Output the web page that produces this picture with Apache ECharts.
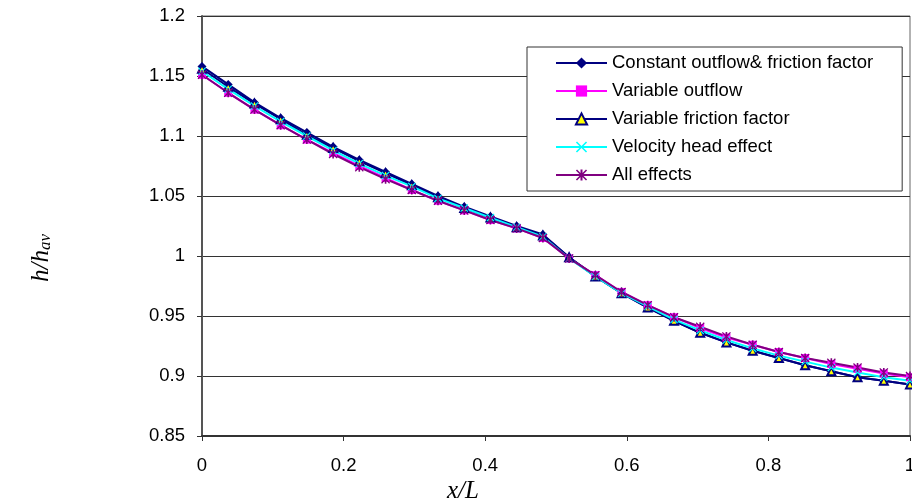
<!DOCTYPE html>
<html>
<head>
<meta charset="utf-8">
<script src="https://cdn.jsdelivr.net/npm/echarts@6/dist/echarts.min.js"></script>
<style>
  html, body { margin: 0; padding: 0; background: #fff; }
  #chart { width: 912px; height: 504px; }
</style>
</head>
<body>
<div id="chart"></div>
<script>
// x/L positions of the computed points
const xs = [0, 0.0370, 0.0741, 0.1111, 0.1481, 0.1852, 0.2222, 0.2593, 0.2963, 0.3333,
  0.3704, 0.4074, 0.4444, 0.4815, 0.5185, 0.5556, 0.5926, 0.6296, 0.6667, 0.7037,
  0.7407, 0.7778, 0.8148, 0.8519, 0.8889, 0.9259, 0.9630, 1];

const constantOutflow = [1.158, 1.143, 1.128, 1.115, 1.103, 1.091, 1.080, 1.070, 1.060, 1.050,
  1.041, 1.033, 1.025, 1.018, 0.999, 0.983, 0.969, 0.957, 0.946, 0.936,
  0.928, 0.921, 0.915, 0.909, 0.904, 0.899, 0.896, 0.893];
const variableOutflow = [1.151, 1.136, 1.122, 1.109, 1.097, 1.086, 1.075, 1.065, 1.055, 1.046,
  1.038, 1.030, 1.023, 1.015, 0.998, 0.984, 0.970, 0.959, 0.949, 0.940,
  0.932, 0.926, 0.920, 0.915, 0.910, 0.906, 0.902, 0.899];
const variableFriction = [1.156, 1.141, 1.127, 1.114, 1.101, 1.090, 1.079, 1.069, 1.059, 1.049,
  1.040, 1.032, 1.024, 1.017, 0.999, 0.983, 0.969, 0.957, 0.946, 0.936,
  0.928, 0.921, 0.915, 0.909, 0.904, 0.899, 0.896, 0.893];
const velocityHead = [1.154, 1.139, 1.125, 1.112, 1.100, 1.088, 1.077, 1.067, 1.058, 1.048,
  1.040, 1.032, 1.024, 1.016, 0.998, 0.983, 0.969, 0.958, 0.947, 0.938,
  0.930, 0.923, 0.917, 0.912, 0.907, 0.903, 0.899, 0.896];
const allEffects = [1.151, 1.136, 1.122, 1.109, 1.097, 1.085, 1.074, 1.064, 1.055, 1.046,
  1.038, 1.030, 1.023, 1.015, 0.998, 0.984, 0.970, 0.959, 0.949, 0.941,
  0.933, 0.926, 0.920, 0.915, 0.911, 0.907, 0.903, 0.900];

const seriesNames = ['Constant outflow& friction factor', 'Variable outflow',
  'Variable friction factor', 'Velocity head effect', 'All effects'];

// marker shapes
const xMark = 'path://M0,1 L1,0 L5,4 L9,0 L10,1 L6,5 L10,9 L9,10 L5,6 L1,10 L0,9 L4,5 Z';
const starMark = 'path://M0,1 L1,0 L5,4 L9,0 L10,1 L6,5 L10,9 L9,10 L5,6 L1,10 L0,9 L4,5 Z M4.1,0 L5.9,0 L5.9,10 L4.1,10 Z';

function pairs(ys) {
  return xs.map((x, i) => [x, ys[i]]);
}

function makeSeries(name, ys, color, symbol, size, fill, border) {
  return {
    name: name,
    type: 'line',
    data: pairs(ys),
    symbol: symbol,
    symbolSize: size,
    showSymbol: true,
    lineStyle: { color: color, width: 2 },
    itemStyle: { color: fill || color, borderColor: border || color, borderWidth: border ? 2 : 0 },
    emphasis: { disabled: true }
  };
}

let chart = echarts.init(document.getElementById('chart'));
chart.setOption({
  animation: false,
  backgroundColor: '#fff',
  grid: {
    left: 202, right: 2, top: 16, bottom: 68,
    containLabel: false,
    outerBoundsMode: 'none',
    show: true, borderColor: '#666', borderWidth: 1
  },
  legend: {
    orient: 'vertical',
    left: 527,
    top: 47,
    data: seriesNames,
    itemWidth: 51,
    itemHeight: 14,
    itemGap: 8,
    padding: [6, 29, 6, 28],
    backgroundColor: '#fff',
    borderColor: '#333',
    borderWidth: 1,
    borderRadius: 0,
    textStyle: { fontFamily: 'Liberation Sans', fontSize: 18.5, lineHeight: 20, color: '#000' }
  },
  xAxis: {
    type: 'value',
    min: 0,
    max: 1,
    interval: 0.2,
    axisLine: { show: true, lineStyle: { color: '#333', width: 2 } },
    axisTick: { show: true, inside: false, length: 5, lineStyle: { color: '#333' } },
    splitLine: { show: false },
    axisLabel: {
      margin: 20,
      fontFamily: 'Liberation Sans',
      fontSize: 18.5,
      color: '#000',
      formatter: v => String(parseFloat(v.toFixed(1)))
    }
  },
  yAxis: {
    type: 'value',
    min: 0.85,
    max: 1.2,
    interval: 0.05,
    axisLine: { show: true, lineStyle: { color: '#555', width: 2 } },
    axisTick: { show: true, inside: false, length: 5, lineStyle: { color: '#333' } },
    splitLine: { show: true, lineStyle: { color: '#333', width: 1 } },
    axisLabel: {
      margin: 17,
      fontFamily: 'Liberation Sans',
      fontSize: 18.5,
      color: '#000',
      formatter: v => String(parseFloat(v.toFixed(2)))
    }
  },
  graphic: [
    {
      type: 'text',
      x: 40,
      y: 258,
      rotation: Math.PI / 2,
      style: {
        text: '{i|h/h}{s|av}',
        align: 'center',
        verticalAlign: 'middle',
        rich: {
          i: { fontFamily: 'Liberation Serif', fontStyle: 'italic', fontSize: 25, lineHeight: 28, verticalAlign: 'bottom', fill: '#000' },
          s: { fontFamily: 'Liberation Serif', fontStyle: 'italic', fontSize: 17, lineHeight: 20, verticalAlign: 'bottom', fill: '#000' }
        }
      }
    },
    {
      type: 'text',
      x: 463,
      y: 491,
      style: {
        text: 'x/L',
        align: 'center',
        verticalAlign: 'middle',
        fontFamily: 'Liberation Serif',
        fontStyle: 'italic',
        fontSize: 25,
        fill: '#000'
      }
    }
  ],
  series: [
    makeSeries(seriesNames[0], constantOutflow, '#000080', 'diamond', 9),
    makeSeries(seriesNames[1], variableOutflow, '#FF00FF', 'rect', 8),
    makeSeries(seriesNames[2], variableFriction, '#000080', 'triangle', 8, '#FFFF00', '#000080'),
    makeSeries(seriesNames[3], velocityHead, '#00FFFF', xMark, 8),
    makeSeries(seriesNames[4], allEffects, '#800080', starMark, 9)
  ]
});
</script>
</body>
</html>
